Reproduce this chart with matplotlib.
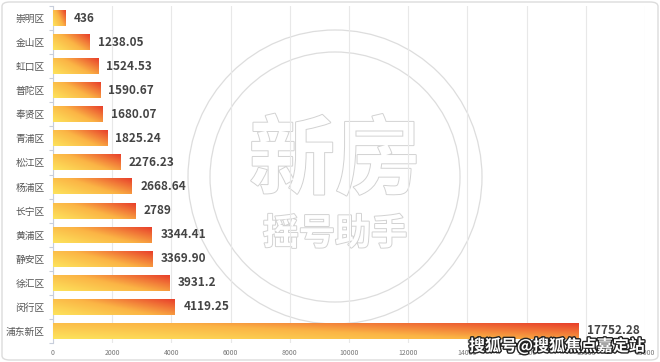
import numpy as np
import matplotlib
matplotlib.use("Agg")
import matplotlib.pyplot as plt
from matplotlib.colors import LinearSegmentedColormap
from matplotlib.patches import FancyBboxPatch, Ellipse
import matplotlib.patheffects as pe

plt.rcParams['font.family'] = ['Noto Sans CJK SC', 'DejaVu Sans']

districts = ["崇明区", "金山区", "虹口区", "普陀区", "奉贤区", "青浦区", "松江区",
             "杨浦区", "长宁区", "黄浦区", "静安区", "徐汇区", "闵行区", "浦东新区"]
values = [436, 1238.05, 1524.53, 1590.67, 1680.07, 1825.24, 2276.23,
          2668.64, 2789, 3344.41, 3369.90, 3931.2, 4119.25, 17752.28]
value_labels = ["436", "1238.05", "1524.53", "1590.67", "1680.07", "1825.24", "2276.23",
                "2668.64", "2789", "3344.41", "3369.90", "3931.2", "4119.25", "17752.28"]
xticks = [0, 2000, 4000, 6000, 8000, 10000, 12000, 14000, 16000, 18000, 20000]

W, H = 660, 362
fig = plt.figure(figsize=(W / 100, H / 100), dpi=100)
fig.patch.set_facecolor("white")

# rounded border
border = FancyBboxPatch((2 / W, 2 / H), 1 - 4 / W, 1 - 4 / H,
                        boxstyle="round,pad=0,rounding_size=0.012",
                        transform=fig.transFigure, facecolor="none",
                        edgecolor="#dcdcdc", linewidth=1.0, zorder=20)
fig.patches.append(border)

ax = fig.add_axes([53 / W, 1 - 343 / H, (645 - 53) / W, (343 - 6) / H])
ax.set_facecolor("none")
ax.set_zorder(5)

cmap = LinearSegmentedColormap.from_list("g", ["#fde35c", "#fbb445", "#e8402b"])

ypos = np.arange(len(districts))
bars = ax.barh(ypos, values, height=0.66, color="none", edgecolor="none", zorder=3)

nx, ny = 200, 20
xx = np.linspace(0, 1, nx)[None, :]
yy = np.linspace(1, 0, ny)[:, None]  # top row = 1 (top of bar)
for b in bars:
    x0, y0, w, h = b.get_x(), b.get_y(), b.get_width(), b.get_height()
    grad = 0.62 * xx + 0.38 * yy
    ax.imshow(grad, cmap=cmap, vmin=0, vmax=1, aspect="auto",
              extent=(x0, x0 + w, y0 + h, y0), zorder=3, interpolation="bilinear")

ax.set_xlim(0, 20000)
ax.set_ylim(len(districts) - 0.5, -0.5)

for y, v, lab in zip(ypos, values, value_labels):
    ax.annotate(lab, (v, y), xytext=(6, 0), textcoords="offset points",
                va="center", ha="left", fontsize=8.5, fontweight="bold",
                color="#444444", zorder=5)

ax.set_yticks(ypos)
ax.set_yticklabels(districts, fontsize=7, color="#555555")
ax.set_yticks(np.arange(len(districts) + 1) - 0.5, minor=True)
ax.tick_params(axis="y", which="major", length=0, pad=6)
ax.tick_params(axis="y", which="minor", length=3, color="#c8cedb", width=0.8)

ax.set_xticks(xticks)
ax.set_xticklabels([str(t) for t in xticks], fontsize=5, color="#777777")
ax.tick_params(axis="x", length=0, pad=4)

ax.grid(axis="x", color="#e8e8e8", linewidth=0.8, zorder=0)
ax.set_axisbelow(True)
for s in ["top", "right", "bottom"]:
    ax.spines[s].set_visible(False)
ax.spines["left"].set_color("#c8cedb")
ax.spines["left"].set_linewidth(0.8)

# central watermark (behind the axes)
cx, cy = 335 / W, 1 - 177 / H
for r in (147, 125):
    circ = Ellipse((cx, cy), 2 * r / W, 2 * r / H,
                   transform=fig.transFigure, fill=False,
                   edgecolor="#dddddd", linewidth=0.9, zorder=1)
    fig.patches.append(circ)
fig.text(cx, 1 - 162 / H, "新房", ha="center", va="center", fontsize=62,
         color="white", fontweight="bold", zorder=1,
         path_effects=[pe.withStroke(linewidth=1.4, foreground="#d2d2d2")])
fig.text(cx, 1 - 234 / H, "摇号助手", ha="center", va="center", fontsize=26,
         color="white", fontweight="bold", zorder=1,
         path_effects=[pe.withStroke(linewidth=1.4, foreground="#d2d2d2")])

# bottom-right watermark
fig.text(645 / W, 1 - 346 / H, "搜狐号@搜狐焦点嘉定站", ha="right", va="center",
         fontsize=11.5, color="white", fontweight="bold", zorder=30,
         path_effects=[pe.withStroke(linewidth=2, foreground="#222222")])

fig.savefig("out.png", dpi=100, facecolor="white")
